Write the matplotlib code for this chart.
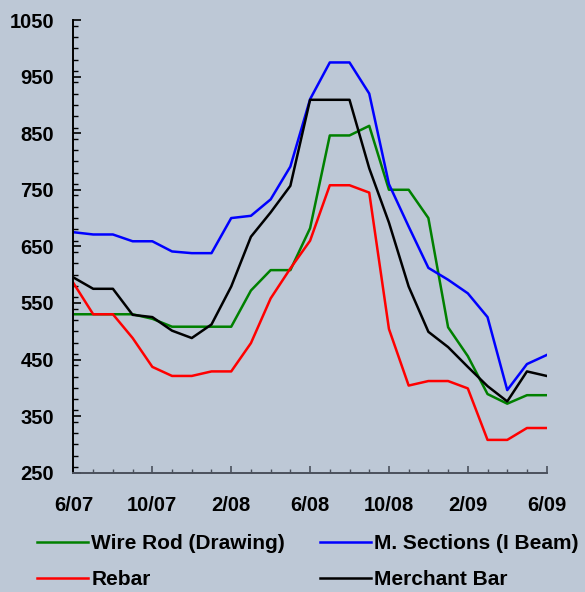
import matplotlib
matplotlib.use("Agg")
import matplotlib.pyplot as plt
from matplotlib.ticker import MultipleLocator
import numpy as np

# ------------------------------------------
# monthly prices, 6/07 .. 6/09
# ------------------------------------------

months = ["6/07", "7/07", "8/07", "9/07", "10/07", "11/07", "12/07", "1/08",
          "2/08", "3/08", "4/08", "5/08", "6/08", "7/08", "8/08", "9/08",
          "10/08", "11/08", "12/08", "1/09", "2/09", "3/09", "4/09", "5/09",
          "6/09"]

y_ticks = [250, 350, 450, 550, 650, 750, 850, 950, 1050]

wire_rod = [530, 530, 530, 530, 522, 508, 508, 508, 508, 572, 608, 608,
            682, 846, 846, 863, 750, 750, 700, 507, 456, 389, 372, 387, 387]

m_sections = [675, 671, 671, 659, 659, 641, 638, 638, 700, 704, 733, 791,
              910, 975, 975, 920, 760, 685, 612, 591, 567, 525, 396, 442, 458]

rebar = [585, 530, 530, 488, 437, 421, 421, 429, 429, 479, 558, 611,
         660, 758, 758, 745, 504, 404, 412, 412, 399, 308, 308, 329, 329]

merchant_bar = [595, 575, 575, 529, 525, 501, 488, 512, 579, 667, 710, 757,
                909, 909, 909, 788, 692, 579, 499, 472, 437, 403, 376, 429, 421]

BG = "#bdc8d6"

plt.rcParams["font.family"] = ["Liberation Sans", "DejaVu Sans"]
plt.rcParams["font.weight"] = "bold"

fig = plt.figure(figsize=(5.85, 5.92), dpi=100, facecolor=BG)
ax = fig.add_axes([0.1256, 0.2015, 0.8089, 0.7647], facecolor=BG)

x = np.arange(len(months))

l_wire, = ax.plot(x, wire_rod, color="#008000", lw=1.8)
l_msec, = ax.plot(x, m_sections, color="#0000ff", lw=1.8)
l_rebar, = ax.plot(x, rebar, color="#ff0000", lw=1.8)
l_merch, = ax.plot(x, merchant_bar, color="#000000", lw=1.8)

# ------------------------------------------
# axes
# ------------------------------------------

ax.set_xlim(0, len(months) - 1)
ax.set_ylim(y_ticks[0], y_ticks[-1])

ax.set_yticks(y_ticks)
ax.yaxis.set_minor_locator(MultipleLocator(20))

# every fourth month gets a label
ax.set_xticks(x[::4], months[::4])
ax.xaxis.set_minor_locator(MultipleLocator(1))

ax.spines["top"].set_visible(False)
ax.spines["right"].set_visible(False)
ax.spines["left"].set_color("black")
ax.spines["left"].set_linewidth(1.4)
ax.spines["bottom"].set_color("#4a505c")
ax.spines["bottom"].set_linewidth(1.4)

ax.tick_params(axis="y", which="major", direction="in", length=6,
               width=1.2, labelsize=14.5, pad=14)
ax.tick_params(axis="y", which="minor", direction="in", length=3.5,
               width=1.0)
ax.tick_params(axis="x", which="major", direction="in", length=5,
               width=1.2, color="#4a505c", labelsize=14.5, pad=17)
ax.tick_params(axis="x", which="minor", direction="in", length=3,
               width=1.0, color="#4a505c")

for t in ax.get_yticklabels() + ax.get_xticklabels():
    t.set_fontweight("bold")

# ------------------------------------------
# legend
# ------------------------------------------

fig.legend(
    [l_wire, l_rebar, l_msec, l_merch],
    ["Wire Rod (Drawing)", "Rebar", "M. Sections (I Beam)", "Merchant Bar"],
    ncol=2,
    loc="upper left",
    bbox_to_anchor=(37 / 585, 1 - 534 / 592),
    frameon=False,
    prop={"size": 15, "weight": "bold"},
    handlelength=2.45,
    handletextpad=0.15,
    columnspacing=1.7,
    labelspacing=0.82,
    borderpad=0,
    borderaxespad=0,
)

fig.savefig("out.png", dpi=100, facecolor=BG)
